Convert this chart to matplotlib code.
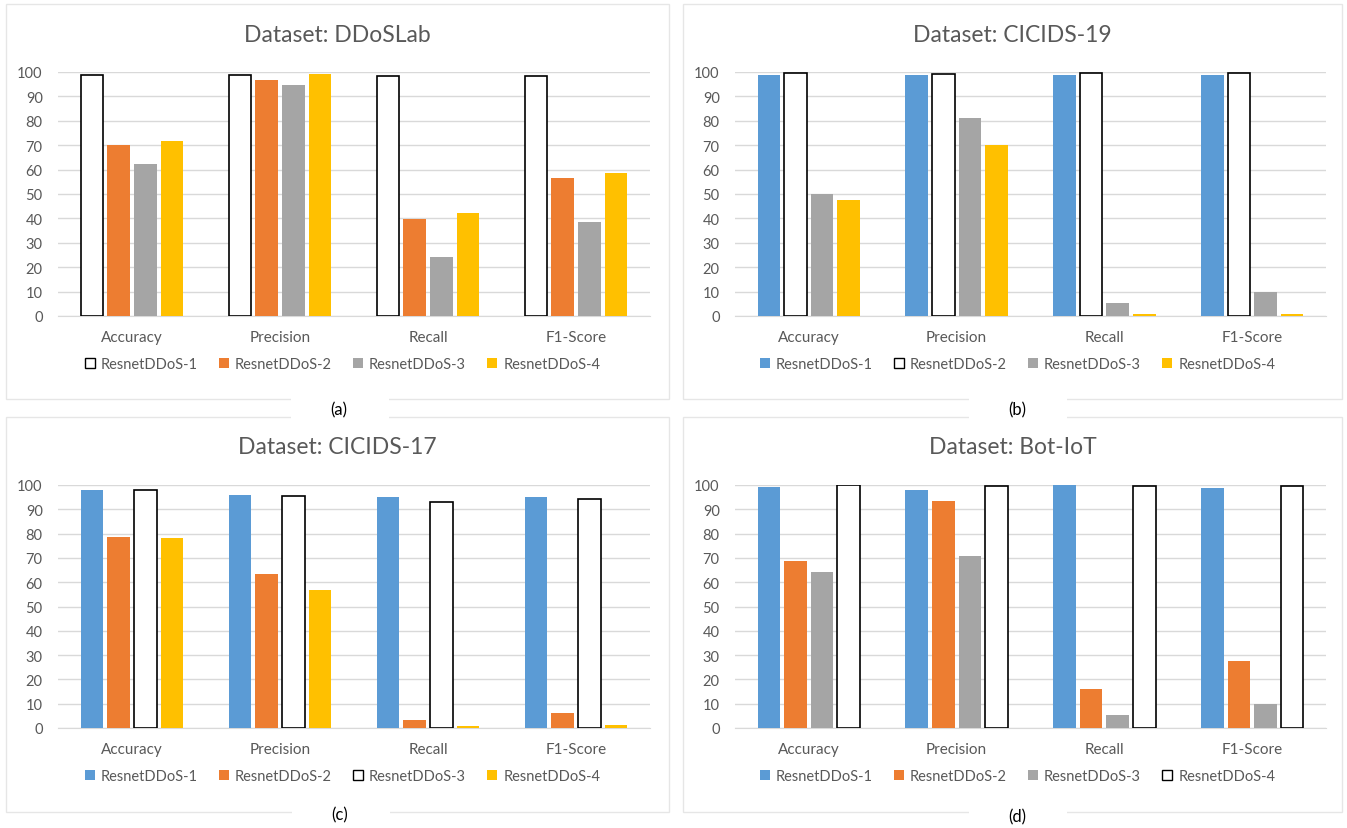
import numpy as np
import matplotlib.pyplot as plt
from matplotlib.patches import Rectangle, Patch

plt.rcParams['font.family'] = ['Lato', 'DejaVu Sans']

metrics = ['Accuracy', 'Precision', 'Recall', 'F1-Score']
models = ['ResnetDDoS-1', 'ResnetDDoS-2', 'ResnetDDoS-3', 'ResnetDDoS-4']

# scores per model (rows) and metric (columns)
ddoslab = [
    [98.6, 98.6, 98.2, 98.2],
    [69.9, 96.6, 39.8, 56.4],
    [62.4, 94.7, 24.0, 38.4],
    [71.7, 99.3, 42.1, 58.7],
]
cicids19 = [
    [98.8, 98.8, 98.8, 98.8],
    [99.6, 99.2, 99.6, 99.6],
    [49.9, 81.2, 5.2, 9.9],
    [47.5, 70.0, 0.7, 0.7],
]
cicids17 = [
    [98.1, 95.9, 94.9, 95.2],
    [78.6, 63.2, 3.4, 6.3],
    [97.9, 95.6, 92.9, 94.2],
    [78.2, 56.9, 0.7, 1.2],
]
botiot = [
    [99.3, 98.1, 99.9, 98.9],
    [68.6, 93.6, 16.0, 27.4],
    [64.1, 70.9, 5.2, 9.9],
    [100.0, 99.6, 99.6, 99.6],
]

colors = ['#5B9BD5', '#ED7D31', '#A5A5A5', '#FFC000']
text_col = '#595959'
grid_col = '#D9D9D9'

W, H = 1347, 829
fig = plt.figure(figsize=(W / 100, H / 100), dpi=100)
fig.patch.set_facecolor('white')


def fx(px):
    return px / W


def fy(py):
    return 1 - py / H


# (title, data, white series index, box, plot area, caption, caption position)
panels = [
    ('Dataset: DDoSLab', ddoslab, 0, (6, 5, 669, 400), (58, 73, 650, 317), '(a)', (339, 410)),
    ('Dataset: CICIDS-19', cicids19, 1, (683, 5, 1342, 400), (735, 73, 1326, 317), '(b)', (1017, 410)),
    ('Dataset: CICIDS-17', cicids17, 2, (6, 418, 669, 813), (58, 486, 650, 729), '(c)', (340, 815)),
    ('Dataset: Bot-IoT', botiot, 3, (683, 418, 1342, 813), (735, 486, 1326, 729), '(d)', (1017, 817)),
]

x = np.arange(len(metrics))
bw = 0.153
pitch = 0.18

for title, data, white_idx, box, area, cap, cap_xy in panels:
    bx0, by0, bx1, by1 = box
    bcx = (bx0 + bx1) / 2
    fig.patches.append(Rectangle((fx(bx0), fy(by1)), fx(bx1 - bx0), (by1 - by0) / H,
                                 transform=fig.transFigure, fill=False,
                                 edgecolor='#E6E6E6', lw=1.0, zorder=0))

    ax0, ay0, ax1, ay1 = area
    ax = fig.add_axes([fx(ax0), fy(ay1), fx(ax1 - ax0), (ay1 - ay0) / H])
    ax.set_facecolor('none')
    handles = []
    for i, vals in enumerate(data):
        pos = x + (i - 1.5) * pitch
        if i == white_idx:
            ax.bar(pos, vals, bw, color='white', edgecolor='black', linewidth=1.2, zorder=3)
            handles.append(Patch(facecolor='white', edgecolor='black', linewidth=1.0, label=models[i]))
        else:
            ax.bar(pos, vals, bw, color=colors[i], zorder=3)
            handles.append(Patch(facecolor=colors[i], label=models[i]))

    ax.set_xlim(-0.5, len(metrics) - 0.5)
    ax.set_ylim(0, 100)
    ax.set_yticks(np.arange(0, 101, 10))
    ax.set_xticks(x)
    ax.set_xticklabels(metrics)
    ax.yaxis.grid(True, color=grid_col, lw=1.0, zorder=0)
    ax.set_axisbelow(True)
    for s in ['top', 'right', 'left']:
        ax.spines[s].set_visible(False)
    ax.spines['bottom'].set_color(grid_col)
    ax.tick_params(axis='both', length=0, colors=text_col)
    ax.tick_params(axis='y', pad=11, labelsize=10.5)
    ax.tick_params(axis='x', pad=10, labelsize=11)

    fig.text(fx(bcx), fy(ay0 - 38), title, ha='center', va='center',
             fontsize=16.5, color=text_col)

    ax.legend(handles=handles, loc='center', ncol=4, frameon=False,
              bbox_to_anchor=(fx(bcx + 5), fy(ay1 + 48)),
              bbox_transform=fig.transFigure, fontsize=10.5, labelcolor=text_col,
              handlelength=0.7, handleheight=0.7, handletextpad=0.4, columnspacing=1.45)

    # white strip behind the caption, cutting the panel border
    cx, cy = cap_xy
    fig.patches.append(Rectangle((fx(cx - 48), fy(cy + 11)), fx(98), 22 / H,
                                 transform=fig.transFigure, facecolor='white',
                                 edgecolor='none', zorder=1))
    fig.text(fx(cx), fy(cy), cap, ha='center', va='center', fontsize=12, color='black', zorder=2)

fig.savefig('out.png', dpi=100, facecolor='white')
